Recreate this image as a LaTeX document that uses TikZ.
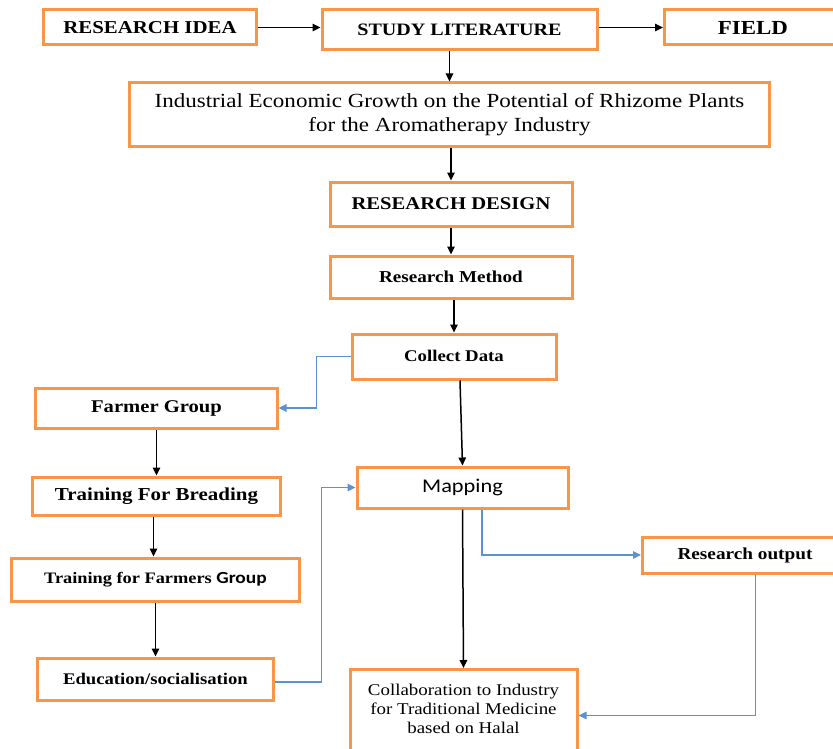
\documentclass[tikz,border=0pt]{standalone}
\usepackage{fontspec}
\setmainfont{Liberation Serif}[FakeStretch=1.15]
\newfontfamily\calib{Carlito}[FakeStretch=1.15]
\usetikzlibrary{arrows.meta}
\definecolor{boxorange}{RGB}{247,150,70}
\definecolor{linkblue}{RGB}{91,146,210}
\tikzset{
  box/.style={draw=boxorange, line width=3bp, fill=white, inner sep=0pt, align=center},
  arr/.style={draw=black, line width=1.5bp, -{Triangle[length=8bp,width=7.5bp]}},
  barr/.style={draw=linkblue, line width=1.5bp, -{Triangle[length=8bp,width=7.5bp]}},
}
\begin{document}
\begin{tikzpicture}[x=1bp,y=-1bp]
\useasboundingbox (0,0) rectangle (833,749);
\clip (0,0) rectangle (833,749);
% top row
\node[box, minimum width=212bp, minimum height=35bp, font=\bfseries\fontsize{18.2}{20}\selectfont] (idea) at (150,27.5) {RESEARCH IDEA};
\node[box, minimum width=275bp, minimum height=40bp, font=\bfseries\fontsize{17.5}{20}\selectfont] (lit) at (459.5,30) {STUDY LITERATURE};
\node[box, minimum width=177bp, minimum height=35bp, font=\bfseries\fontsize{20}{20}\selectfont, anchor=west] (field) at (663,27.5) {FIELD};
% main column
\node[box, minimum width=639bp, minimum height=63bp, font=\fontsize{20.1}{24}\selectfont] (ind) at (449.5,114.5) {Industrial Economic Growth on the Potential of Rhizome Plants\\for the Aromatherapy Industry};
\node[box, minimum width=242bp, minimum height=44bp, font=\bfseries\fontsize{18}{20}\selectfont] (design) at (451,204) {RESEARCH DESIGN};
\node[box, minimum width=242bp, minimum height=42bp, font=\bfseries\fontsize{16.7}{20}\selectfont] (method) at (451,277) {Research Method};
\node[box, minimum width=204bp, minimum height=45bp, font=\bfseries\fontsize{16.4}{20}\selectfont] (collect) at (454,356.5) {\raisebox{2bp}{Collect Data}};
\node[box, minimum width=211bp, minimum height=41bp, font=\calib\fontsize{19.5}{22}\selectfont] (mapping) at (462.5,487.5) {Mapping};
\node[box, minimum width=199bp, minimum height=36bp, font=\bfseries\fontsize{16.8}{20}\selectfont, anchor=west] (output) at (641,555) {\hspace*{6bp}Research output};
\node[box, minimum width=227bp, minimum height=92bp, anchor=north] (collab) at (463.5,668) {};
\node[align=center, inner sep=0pt, font=\fontsize{16.5}{19}\selectfont] (collabtext) at (463.5,709) {Collaboration to Industry\\for Traditional Medicine\\based on Halal};
% left column
\node[box, minimum width=241bp, minimum height=40bp, font=\bfseries\fontsize{18}{20}\selectfont] (farmer) at (156.5,408) {Farmer Group};
\node[box, minimum width=247bp, minimum height=38bp, font=\bfseries\fontsize{18.3}{20}\selectfont] (breading) at (156.5,496) {Training For Breading};
\node[box, minimum width=287bp, minimum height=43bp, font=\bfseries\fontsize{16}{20}\selectfont] (tffg) at (155.5,579.5) {Training for Farmers {\calib\fontsize{17}{20}\selectfont Group}};
\node[box, minimum width=235bp, minimum height=42bp, font=\bfseries\fontsize{16.3}{20}\selectfont] (edu) at (155.5,679) {Education/socialisation};
% black connectors
\draw[arr] (idea.east) -- (idea.east -| lit.west);
\draw[arr] (lit.east |- idea.east) -- (field.west);
\draw[arr] (lit.south -| ind.north) -- (ind.north);
\draw[arr] (ind.south -| design.north) -- (design.north);
\draw[arr] (design.south) -- (method.north);
\draw[arr] (method.south -| collect.north) -- (collect.north);
\draw[arr] ([xshift=6bp]collect.south) -- (mapping.north);
\draw[arr] (mapping.south) -- (collab.north);
\draw[arr] (farmer.south) -- (breading.north);
\draw[arr] ([xshift=-3bp]breading.south) -- ([xshift=-3bp]breading.south |- tffg.north);
\draw[arr] (tffg.south) -- (edu.north);
% blue connectors
\draw[barr] (collect.west) -- ++(-34,0) |- (farmer.east);
\draw[barr] ([yshift=-3bp]edu.east) -- ++(47,0) |- (mapping.west);
\draw[barr] ([xshift=19.5bp]mapping.south) |- (output.west);
\draw[barr] ([xshift=13.5bp]output.south) |- (collab.east);
\end{tikzpicture}
\end{document}
